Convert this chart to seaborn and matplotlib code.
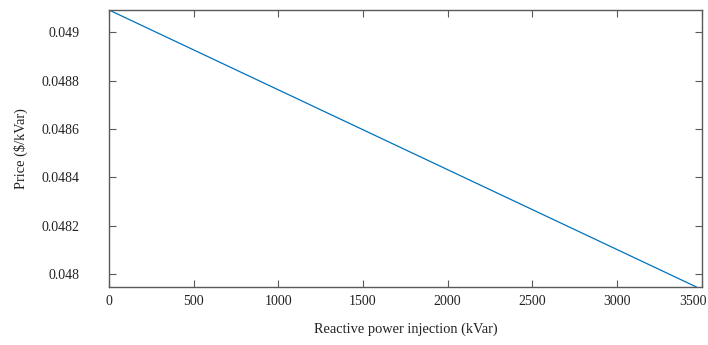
import matplotlib
matplotlib.use('Agg')
import matplotlib.pyplot as plt
import matplotlib.transforms as mtransforms
import seaborn as sns
import pandas as pd

# data
injection = [0, 3470]
price = [0.049093, 0.047945]

x_ticks = [0, 500, 1000, 1500, 2000, 2500, 3000, 3500]
y_ticks = [0.048, 0.0482, 0.0484, 0.0486, 0.0488, 0.049]
y_tick_labels = ['0.048', '0.0482', '0.0484', '0.0486', '0.0488', '0.049']

sns.set_style('ticks')
plt.rcParams['font.family'] = ['Liberation Serif', 'DejaVu Serif']
plt.rcParams['mathtext.fontset'] = 'stix'

df = pd.DataFrame({'injection': injection, 'price': price})

fig = plt.figure(figsize=(7.08, 3.45), dpi=100)
ax = fig.add_axes([0.154, 0.168, 0.837, 0.803])
sns.lineplot(data=df, x='injection', y='price', color='#0072BD', linewidth=0.9, ax=ax)

ax.set_xlim(0, 3500)
ax.set_ylim(min(price), max(price))
ax.set_xticks(x_ticks)
ax.set_yticks(y_ticks)
ax.set_yticklabels(y_tick_labels)

axis_col = '#5a5a5a'
for s in ax.spines.values():
    s.set_visible(True)
    s.set_color(axis_col)
    s.set_linewidth(1.0)
ax.tick_params(direction='in', length=5, width=0.8, color=axis_col,
               top=True, right=True, labelsize=10, labelcolor='#222222')
ax.tick_params(axis='x', pad=6)
ax.tick_params(axis='y', pad=21)

# last x label pulled in so it stays on the canvas
last = ax.get_xticklabels()[-1]
last.set_transform(last.get_transform() +
                   mtransforms.ScaledTranslation(-0.09, 0, fig.dpi_scale_trans))

ax.set_xlabel('Reactive power injection (kVar)', fontsize=10.4, labelpad=10, color='#222222')
ax.set_ylabel('Price (\\$/kVar)', fontsize=10.4, labelpad=10, color='#222222')

fig.savefig('out.png', dpi=100)
